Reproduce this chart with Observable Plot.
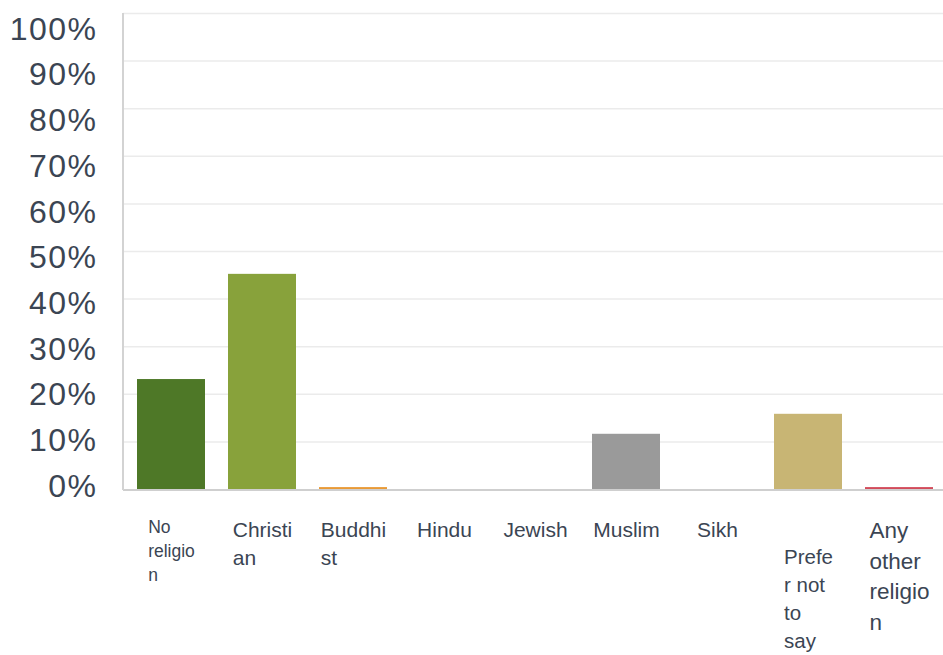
<!DOCTYPE html>
<html>
<head>
<meta charset="utf-8">
<script src="https://cdn.jsdelivr.net/npm/d3@7"></script>
<script src="https://cdn.jsdelivr.net/npm/@observablehq/plot@0.6"></script>
<style>
  html, body { margin: 0; padding: 0; background: #fff; }
  #wrap { position: relative; width: 943px; height: 655px; overflow: hidden; }
  #wrap svg { position: absolute; left: 0; top: 0; overflow: visible; }
</style>
</head>
<body>
<div id="wrap"></div>
<script>
// ---- data ----
const categories = ["No religion", "Christian", "Buddhist", "Hindu", "Jewish", "Muslim", "Sikh", "Prefer not to say", "Any other religion"];
const percentages = [23.1, 45.2, 0.4, 0, 0, 11.6, 0, 15.8, 0.4];
const tickLabels = ["No\nreligio\nn", "Christi\nan", "Buddhi\nst", "Hindu", "Jewish", "Muslim", "Sikh", "Prefe\nr not\nto\nsay", "Any\nother\nreligio\nn"];
const yTicks = [0, 10, 20, 30, 40, 50, 60, 70, 80, 90, 100];

// ---- styles ----
const colors = ["#4e7827", "#88a23b", "#e99a36", "#6f8fc2", "#5b9bd5", "#9a9a9a", "#70ad47", "#c8b574", "#d24b5a"];
const labelStyle = {
  "No religion": {size: 17.5, skip: 0},
  "Any other religion": {size: 22.5, skip: 0},
  "Prefer not to say": {size: 20.5, skip: 1}
};
const FONT = "'Liberation Sans', Arial, Helvetica, sans-serif";
const TEXT = "#3b4553";

const rows = categories.map((c, i) => ({category: c, value: percentages[i], label: tickLabels[i], color: colors[i]}));

const W = 943, H = 655;
const ctx = document.createElement("canvas").getContext("2d");
function blockWidth(label, size) {
  ctx.font = `${size}px ${FONT}`;
  return d3.max(label.split("\n"), l => ctx.measureText(l).width);
}

const labelMarks = rows.map(r => {
  const st = labelStyle[r.category] || {size: 21, skip: 0};
  const w = blockWidth(r.label, st.size);
  return Plot.text([r], {
    x: "category", y: () => 0, text: "label",
    textAnchor: "start", lineAnchor: "top", lineHeight: 1.36,
    dx: -w / 2, dy: 27 + st.skip * st.size * 1.36,
    fontSize: st.size, fill: TEXT
  });
});

const leftLine = (index, scales, values, dims) => {
  const l = document.createElementNS("http://www.w3.org/2000/svg", "line");
  l.setAttribute("x1", dims.marginLeft); l.setAttribute("x2", dims.marginLeft);
  l.setAttribute("y1", dims.marginTop); l.setAttribute("y2", dims.height - dims.marginBottom + 1);
  l.setAttribute("stroke", "#d3d3d3"); l.setAttribute("stroke-width", 2);
  return l;
};

const main = Plot.plot({
  width: W, height: H,
  marginTop: 13, marginBottom: 166, marginLeft: 123, marginRight: 0,
  style: {fontFamily: FONT, background: "transparent"},
  x: {domain: categories, range: [126, 945], paddingInner: 0.25, paddingOuter: 0.125, axis: null},
  y: {domain: [0, 100], axis: null},
  marks: [
    Plot.ruleY(yTicks.filter(t => t > 0), {stroke: "#ebebeb", strokeWidth: 1.5}),
    Plot.barY(rows, {x: "category", y: "value", fill: "color"}),
    Plot.ruleY([0], {stroke: "#cfcfcf", strokeWidth: 2, dy: 0.5}),
    leftLine,
    ...labelMarks
  ]
});

const yAxisPlot = Plot.plot({
  width: 110, height: H,
  marginTop: 29, marginBottom: H - 486, marginLeft: 97, marginRight: 0,
  style: {fontFamily: FONT, background: "transparent"},
  y: {domain: [0, 100]},
  x: {axis: null},
  marks: [
    Plot.axisY(yTicks, {
      tickSize: 0, tickPadding: 0, label: null,
      tickFormat: d => d + "%", fontSize: 32, fill: TEXT
    })
  ]
});
yAxisPlot.style.letterSpacing = "1.5px";

const wrap = document.getElementById("wrap");
wrap.appendChild(main);
wrap.appendChild(yAxisPlot);
</script>
</body>
</html>
